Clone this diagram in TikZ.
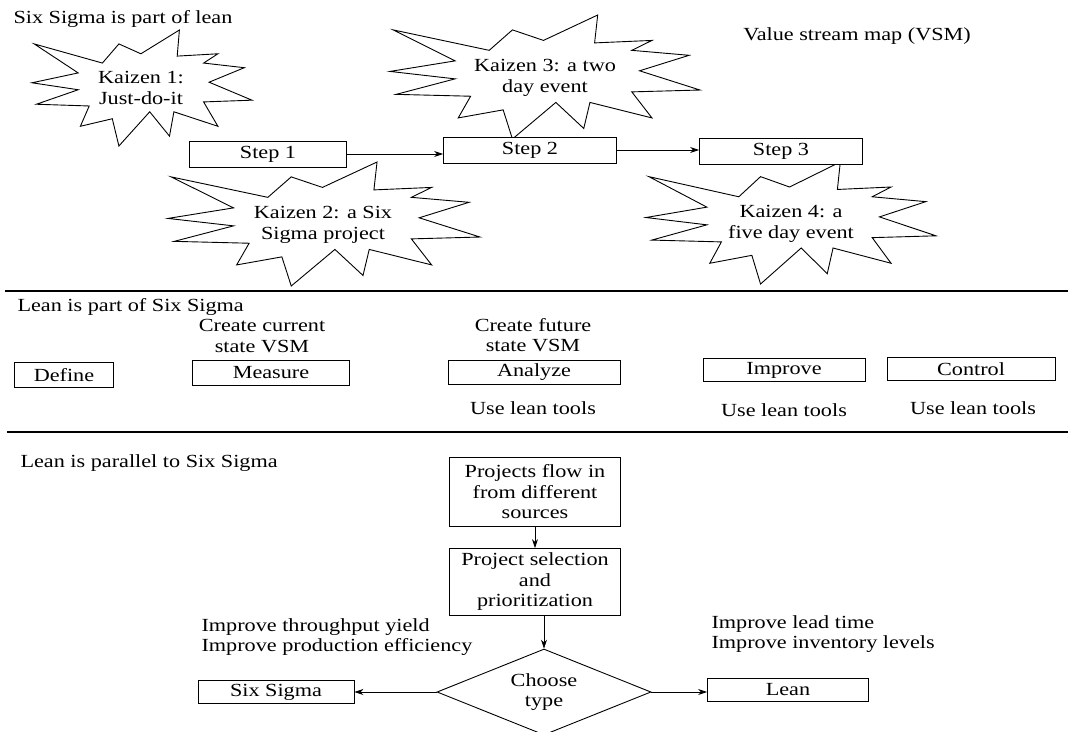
\documentclass[tikz,border=0pt]{standalone}
\usepackage{fontspec}
\setmainfont{Liberation Serif}[FakeStretch=1.2]
\usetikzlibrary{shapes.geometric,arrows.meta}

% outline of a kaizen burst, unit box
\newcommand\kaizenoutline{(-0.98,-0.76) -- (-0.36,-0.43) -- (-0.21,-0.76) -- (-0.01,-0.59)
	-- (0.34,-1) -- (0.32,-0.55) -- (0.69,-0.59) -- (0.56,-0.43) -- (0.93,-0.35)
	-- (0.61,-0.10) -- (1,0.21) -- (0.56,0.24) -- (0.69,0.66) -- (0.29,0.41)
	-- (0.25,0.83) -- (0.07,0.41) -- (-0.21,1) -- (-0.27,0.53) -- (-0.56,0.66)
	-- (-0.48,0.31) -- (-0.96,0.28) -- (-0.58,0.03) -- (-1,-0.09) -- (-0.58,-0.26) -- cycle}

\begin{document}
\begin{tikzpicture}[x=1pt,y=-1pt,
	font=\fontsize{18.5}{20.5}\selectfont,
	box/.style={draw,line width=0.9pt,fill=white,inner sep=0pt},
	burst/.style={draw,line width=0.9pt,fill=white,line join=miter},
	flow/.style={-{Stealth[length=9pt,width=6pt]},line width=0.8pt},
	sep/.style={line width=1.2pt}]
	\useasboundingbox (0,0) rectangle (1068,731);
	
	% Six Sigma is part of lean
	\node[anchor=west] (t1) at (10,19) {Six Sigma is part of lean};
	\node (vsm) at (857,36) {Value stream map (VSM)};
	
	% kaizen bursts
	\draw[burst,shift={(142,88)},xscale=110,yscale=58] \kaizenoutline;
	\draw[burst,shift={(324,224)},xscale=156,yscale=62] \kaizenoutline;
	\draw[burst,shift={(545,77)},xscale=155,yscale=62] \kaizenoutline;
	\draw[burst,shift={(791,223)},xscale=145,yscale=61] \kaizenoutline;
	\node[align=center] (kz1) at (141,88) {Kaizen 1:\\Just-do-it};
	\node[align=center] (kz2) at (323,225) {Kaizen 2: a Six\\Sigma project};
	\node[align=center] (kz3) at (545,78) {Kaizen 3: a two\\day event};
	\node[align=center] (kz4) at (791,224) {Kaizen 4: a\\five day event};
	
	% steps
	\node[box,minimum width=157pt,minimum height=26pt] (s1) at (268,154) {Step 1};
	\node[box,minimum width=173pt,minimum height=26pt] (s2) at (530,150) {Step 2};
	\node[box,minimum width=163pt,minimum height=26pt] (s3) at (781,151) {Step 3};
	\draw[flow] (s1.east) -- (s1.east -| s2.west);
	\draw[flow] (s2.east) -- (s2.east -| s3.west);
	
	\draw[sep] (5,291) -- (1068,291);
	
	% Lean is part of Six Sigma
	\node[anchor=west] (t2) at (14,307) {Lean is part of Six Sigma};
	\node[align=center] (cc) at (262,336) {Create current\\state VSM};
	\node[align=center] (cf) at (533,335) {Create future\\state VSM};
	\node[box,minimum width=99pt,minimum height=25pt] (d) at (64,375) {Define};
	\node[box,minimum width=157pt,minimum height=25pt] (m) at (271,373) {Measure};
	\node[box,minimum width=172pt,minimum height=24pt] (a) at (534,372) {Analyze};
	\node[box,minimum width=162pt,minimum height=23pt] (i) at (784,370) {Improve};
	\node[box,minimum width=168pt,minimum height=23pt] (c) at (971,369) {Control};
	\node (u1) at (533,408) {Use lean tools};
	\node (u2) at (784,410) {Use lean tools};
	\node (u3) at (973,408) {Use lean tools};
	
	\draw[sep] (7,432) -- (1068,432);
	
	% Lean is parallel to Six Sigma
	\node[anchor=west] (t3) at (17,463) {Lean is parallel to Six Sigma};
	\node[box,minimum width=171pt,minimum height=69pt,align=center] (proj) at (535,492) {Projects flow in\\from different\\sources};
	\node[box,minimum width=171pt,minimum height=67pt,align=center] (sel) at (535,582) {Project selection\\and\\prioritization};
	\node[diamond,draw,line width=0.9pt,inner sep=0pt,aspect=2.5,minimum width=214pt,minimum height=86pt,align=center] (ch) at (544,692) {Choose\\type};
	\node[box,minimum width=156pt,minimum height=23pt] (ss) at (276,692) {Six Sigma};
	\node[box,minimum width=161pt,minimum height=23pt] (ln) at (788,690) {Lean};
	\node[anchor=west,align=left] (g1) at (198,637) {Improve throughput yield\\Improve production efficiency};
	\node[anchor=west,align=left] (g2) at (708,634) {Improve lead time\\Improve inventory levels};
	\draw[flow] (proj) -- (sel);
	\draw[flow] (sel.south -| ch.north) -- (ch.north);
	\draw[flow] (ch.west) -- (ss.east);
	\draw[flow] (ch.east) -- (ch.east -| ln.west);
\end{tikzpicture}
\end{document}
